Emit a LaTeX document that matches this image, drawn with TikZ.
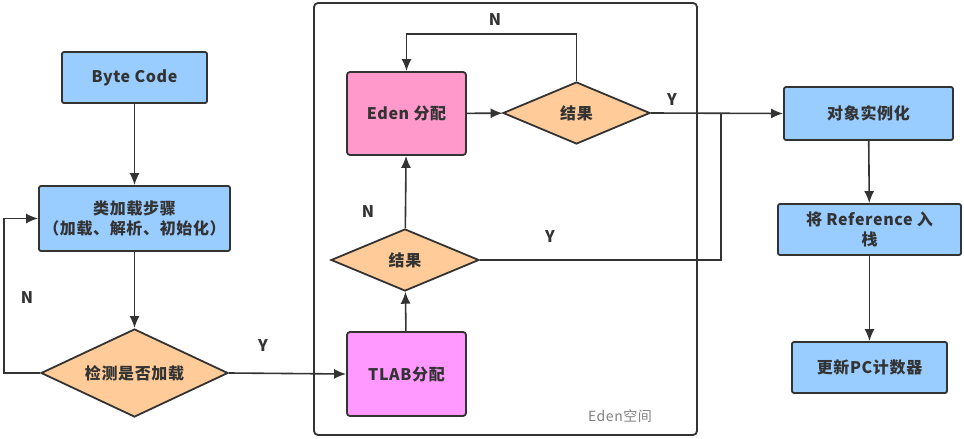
\documentclass[tikz,border=0pt]{standalone}
\usepackage{fontspec}
\setmainfont{Noto Sans CJK SC}[LetterSpace=4]
\usetikzlibrary{shapes.geometric,arrows.meta}
\definecolor{ink}{HTML}{333333}
\definecolor{boxblue}{HTML}{99CCFF}
\definecolor{dia}{HTML}{FFCC99}
\definecolor{edenpink}{HTML}{FF99CC}
\definecolor{tlabpink}{HTML}{FF99FF}
\tikzset{
  base/.style={draw=ink, line width=1.8pt, text=ink, font=\fontsize{16}{20}\selectfont\bfseries, align=center, inner sep=0pt},
  bluebox/.style={base, fill=boxblue, rounded corners=2pt},
  pinkbox/.style={base, fill=edenpink, rounded corners=3pt},
  tlabbox/.style={base, fill=tlabpink, rounded corners=3pt},
  decide/.style={base, diamond, fill=dia},
  arr/.style={draw=ink, line width=1.6pt, -{Latex[length=12pt,width=10pt]}},
  ln/.style={draw=ink, line width=1.6pt},
  lab/.style={text=ink, font=\fontsize{16}{18}\selectfont\bfseries}
}
\begin{document}
\begin{tikzpicture}[x=1pt,y=-1pt]
\useasboundingbox (0,0) rectangle (964,439);
% Eden container
\node[draw=ink, line width=1.8pt, rounded corners=4pt, minimum width=383pt, minimum height=432pt, inner sep=0pt] (edenspace) at (505.5,219) {};
\node[text=gray, font=\fontsize{14}{16}\selectfont] (edenlbl) at (620,416) {Eden空间};

% left column
\node[bluebox, minimum width=145pt, minimum height=51pt] (byte) at (134.5,77.5) {Byte Code};
\node[bluebox, minimum width=191pt, minimum height=65pt] (load) at (134.5,218.5) {类加载步骤\\（加载、解析、初始化）};
\node[decide, aspect=2.3, minimum width=187pt, minimum height=88pt] (check) at (134.5,373) {检测是否加载};

% Eden part
\node[pinkbox, minimum width=119pt, minimum height=83pt] (eden) at (406.5,113.5) {Eden 分配};
\node[decide, aspect=2.4, minimum width=147pt, minimum height=62pt] (res1) at (576.5,113) {结果};
\node[decide, aspect=2.4, minimum width=148pt, minimum height=62pt] (res2) at (405,260) {结果};
\node[tlabbox, minimum width=119pt, minimum height=84pt] (tlab) at (406.5,374) {TLAB分配};

% right column
\node[bluebox, minimum width=169pt, minimum height=53pt] (obj) at (868.5,113.5) {对象实例化};
\node[bluebox, minimum width=183pt, minimum height=51pt] (ref) at (869.5,229.5) {将 Reference 入\\栈};
\node[bluebox, minimum width=155pt, minimum height=51pt] (pc) at (869.5,367.5) {更新PC计数器};

\coordinate (join) at (721,113);

% connectors
\draw[arr] (byte) -- (load);
\draw[arr] (load) -- (check);
\draw[arr] (check.west) -- ++(-36,0) |- (load.west);
\draw[arr] (check.east) -- (tlab.west);
\draw[arr] (tlab) -- (res2);
\draw[arr] (res2) -- (eden);
\draw[arr] (eden) -- (res1);
\draw[arr] (res1.north) -- ++(0,-47) -| (eden.north);
\draw[arr] (res1.east) -- (obj.west);
\draw[ln] (res2.east) -| (join);
\draw[arr] (obj) -- (ref);
\draw[arr] (ref) -- (pc);

% labels
\node[lab] (n1) at (27,298) {N};
\node[lab] (y1) at (263,346) {Y};
\node[lab] (n2) at (495,20) {N};
\node[lab] (y2) at (672,100) {Y};
\node[lab] (n3) at (368,212) {N};
\node[lab] (y3) at (550,237) {Y};
\end{tikzpicture}
\end{document}
